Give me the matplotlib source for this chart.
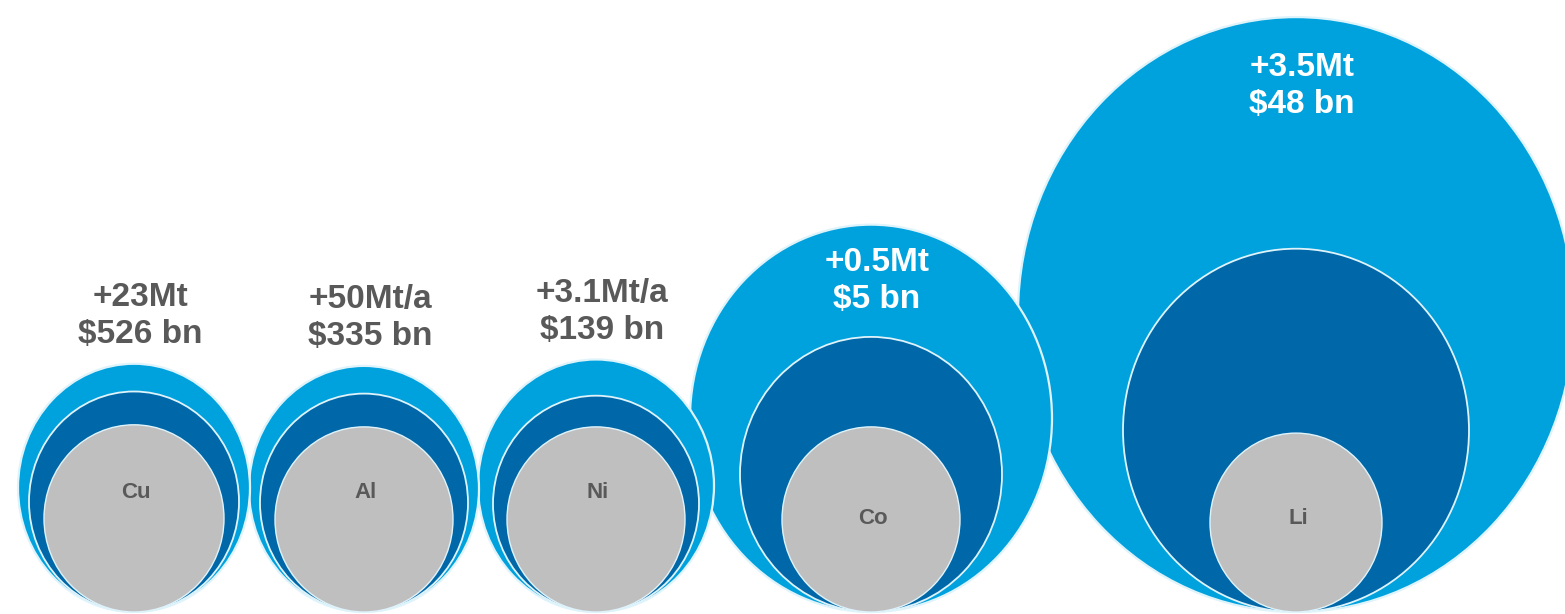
import matplotlib.pyplot as plt
from matplotlib.patches import Ellipse

# Metals, demand labels and ring sizes (horizontal radius, px)
metals = ["Cu", "Al", "Ni", "Co", "Li"]
volume = ["+23Mt", "+50Mt/a", "+3.1Mt/a", "+0.5Mt", "+3.5Mt"]
value = ["$526 bn", "$335 bn", "$139 bn", "$5 bn", "$48 bn"]
r_outer = [116, 115, 118, 181, 278]
r_middle = [105, 104, 103, 131, 173]
r_inner = [90, 89, 89, 89, 86]
centers_x = [134, 364, 596, 871, 1296]

LIGHT = "#00a2de"
DARK = "#0068a8"
GREY = "#bfbfbf"
TEXT = "#595959"
EDGE = "#dff3fb"

base_y = 612      # common bottom tangent of all rings
# rings are drawn slightly taller than wide
stretch = {"outer": 1.07, "middle": 1.05, "inner": 1.04}

fig = plt.figure(figsize=(15.65, 6.14), dpi=100)
ax = fig.add_axes([0, 0, 1, 1])
ax.set_xlim(0, 1565)
ax.set_ylim(614, 0)
ax.axis("off")

for i, m in enumerate(metals):
    cx = centers_x[i]
    z0 = (len(metals) - i) * 4
    rings = [(r_outer[i], stretch["outer"], LIGHT, 1.6),
             (r_middle[i], stretch["middle"], DARK, 1.3),
             (r_inner[i], stretch["inner"], GREY, 1.0)]
    for k, (r, s, col, lw) in enumerate(rings):
        ry = r * s
        ax.add_patch(Ellipse((cx, base_y - ry), 2 * r, 2 * ry,
                             facecolor=col, edgecolor=EDGE, linewidth=lw,
                             zorder=z0 + k))

    # element symbol inside the grey core
    sym_y = 493 if i < 3 else 519
    ax.text(cx + 2, sym_y, m, ha="center", va="center", fontsize=16,
            fontweight="bold", color=TEXT, family="Liberation Sans",
            zorder=100)

    # volume / value label: above the ring for small ones, inside for big ones
    top = base_y - 2 * r_outer[i] * stretch["outer"]
    if i < 3:
        y1, col = top - 66, TEXT
    elif i == 3:
        y1, col = top + 38, "white"
    else:
        y1, col = top + 50, "white"
    ax.text(cx + 6, y1, volume[i], ha="center", va="center", fontsize=24,
            fontweight="bold", color=col, family="Liberation Sans", zorder=100)
    ax.text(cx + 6, y1 + 37, value[i], ha="center", va="center", fontsize=24,
            fontweight="bold", color=col, family="Liberation Sans", zorder=100)

fig.savefig("out.png", dpi=100, facecolor="white")
